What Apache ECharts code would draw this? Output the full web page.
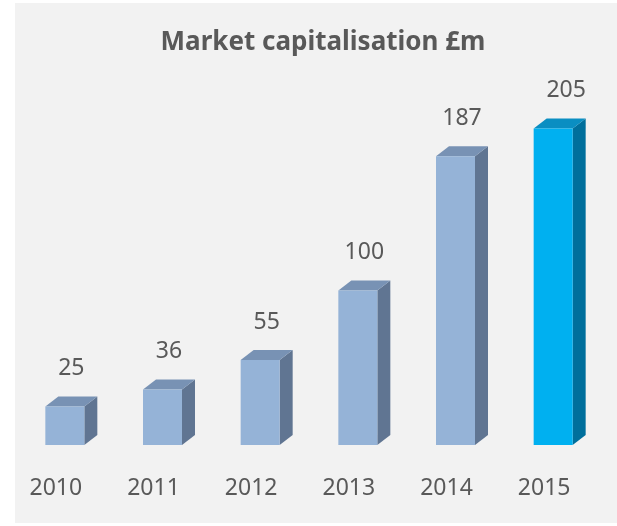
<!DOCTYPE html>
<html>
<head>
<meta charset="utf-8">
<script src="https://cdn.jsdelivr.net/npm/echarts@6/dist/echarts.min.js"></script>
<style>
  html, body { margin: 0; padding: 0; background: #fff; }
  #main { width: 617px; height: 526px; }
</style>
</head>
<body>
<div id="main"></div>
<script>
const years = ["2010", "2011", "2012", "2013", "2014", "2015"];
const marketCap = [25, 36, 55, 100, 187, 205];

const normal = { front: "#95b3d7", side: "#607592", top: "#7892b4" };
const highlight = { front: "#00b0f0", side: "#006f9c", top: "#0a8ec2" };

const depthX = 13;
const depthY = -10;
const font = '"Noto Sans", sans-serif';

const chart = echarts.init(document.getElementById("main"), null, { renderer: "canvas" });

function renderBar(params, api) {
  const idx = api.value(0);
  const val = api.value(1);
  const base = api.coord([idx, 0]);
  const topPt = api.coord([idx, val]);
  const w = 39;
  const x0 = base[0] - w / 2;
  const x1 = base[0] + w / 2;
  const yb = base[1];
  const yt = topPt[1];
  const isLast = idx === years.length - 1;
  const c = isLast ? highlight : normal;
  return {
    type: "group",
    children: [
      {
        type: "polygon",
        shape: { points: [[x1, yt], [x1 + depthX, yt + depthY], [x1 + depthX, yb + depthY], [x1, yb]] },
        style: { fill: c.side }
      },
      {
        type: "polygon",
        shape: { points: [[x0, yt], [x0 + depthX, yt + depthY], [x1 + depthX, yt + depthY], [x1, yt]] },
        style: { fill: c.top }
      },
      {
        type: "rect",
        shape: { x: x0, y: yt, width: w, height: yb - yt },
        style: { fill: c.front }
      },
      {
        type: "text",
        x: base[0] + (isLast ? 13 : 6.5),
        y: yt - 38,
        style: {
          text: String(val),
          fill: "#595959",
          font: "23px " + font,
          align: "center",
          verticalAlign: "middle"
        }
      },
      {
        type: "text",
        x: base[0] - 9,
        y: yb + 43,
        style: {
          text: years[idx],
          fill: "#595959",
          font: "23px " + font,
          align: "center",
          verticalAlign: "middle"
        }
      }
    ]
  };
}

chart.setOption({
  backgroundColor: "#ffffff",
  animation: false,
  graphic: [
    {
      type: "rect",
      z: -10,
      shape: { x: 15, y: 3, width: 602, height: 520 },
      style: { fill: "#f2f2f2" }
    }
  ],
  title: {
    text: "Market capitalisation £m",
    left: 318,
    top: 25,
    textAlign: "center",
    textStyle: { fontFamily: font, fontSize: 26, fontWeight: "bold", color: "#595959" }
  },
  grid: { left: 16, width: 586, top: 59, bottom: 81 },
  xAxis: {
    type: "category",
    data: years,
    axisLine: { show: false },
    axisTick: { show: false },
    axisLabel: { show: false }
  },
  yAxis: {
    type: "value",
    min: 0,
    max: 250,
    show: false,
    splitLine: { show: false }
  },
  series: [
    {
      type: "custom",
      renderItem: renderBar,
      encode: { x: 0, y: 1 },
      data: marketCap.map((v, i) => [i, v])
    }
  ]
});
</script>
</body>
</html>
